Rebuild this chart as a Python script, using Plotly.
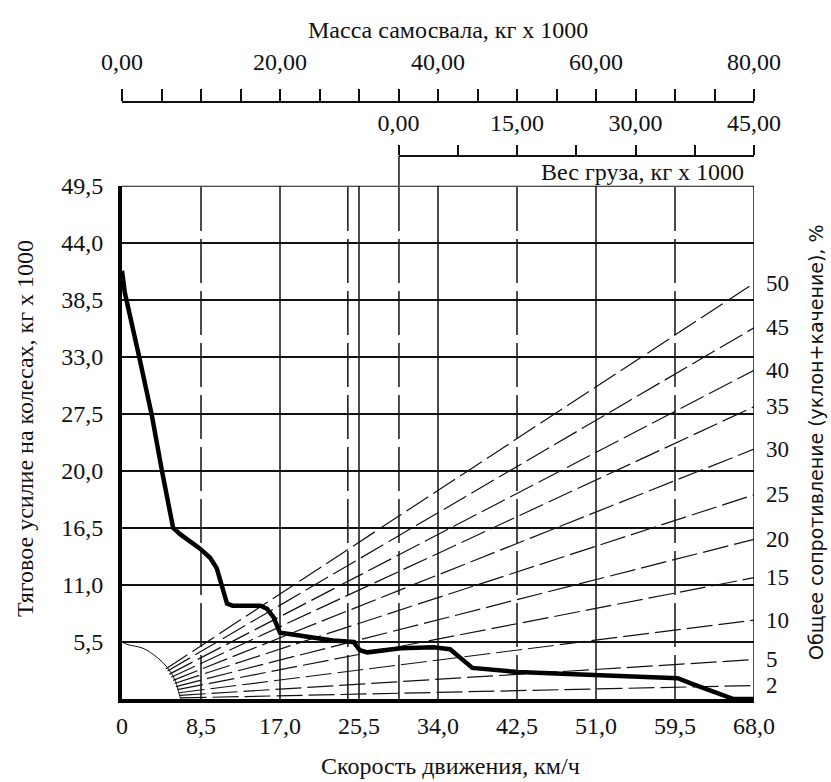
import plotly.graph_objects as go

# ---------------- data ----------------
speed_ticks = [0, 8.5, 17.0, 25.5, 34.0, 42.5, 51.0, 59.5, 68.0]
speed_ticktext = ["0", "8,5", "17,0", "25,5", "34,0", "42,5", "51,0", "59,5", "68,0"]
force_ticks = [5.5, 11.0, 16.5, 22.0, 27.5, 33.0, 38.5, 44.0, 49.5]
force_ticktext = ["5,5", "11,0", "16,5", "20,0", "27,5", "33,0", "38,5", "44,0", "49,5"]

# rimpull (traction) curve
rimpull_speed = [0, 0.3, 1.9, 3.2, 4.3, 5.5, 6.25, 8.4, 9.5, 10.2, 11.3, 11.9, 14.9, 15.6,
                 16.3, 17.0, 17.8, 22.7, 24.9, 25.6, 26.4, 30.0, 33.5, 35.3, 37.7, 42.6,
                 48.0, 55.1, 59.8, 61.2, 65.8, 68.0]
rimpull_force = [41.3, 39.2, 32.8, 27.4, 22.0, 16.5, 15.9, 14.5, 13.6, 12.6, 9.2, 9.0, 9.0, 8.7,
                 7.9, 6.4, 6.3, 5.65, 5.5, 4.7, 4.5, 4.9, 5.0, 4.8, 3.0, 2.6,
                 2.4, 2.1, 2.0, 1.5, 0.0, 0.0]

# total resistance lines (grade + rolling), %
resist_pct = [2, 5, 10, 15, 20, 25, 30, 35, 40, 45, 50]
resist_start_speed = [6.3, 6.2, 6.1, 5.95, 5.8, 5.65, 5.5, 5.3, 5.1, 4.9, 4.7]
resist_start_force = [0.1, 0.35, 0.6, 0.9, 1.2, 1.5, 1.8, 2.1, 2.4, 2.7, 2.9]
resist_end_speed = [68.0] * 11
resist_end_force = [1.3, 3.8, 7.6, 11.7, 15.4, 19.7, 24.1, 28.2, 31.7, 35.8, 40.1]

# thin weight curve near the origin
weight_curve_speed = [0, 0.54, 2.26, 3.77, 4.85, 5.71, 6.25, 6.35]
weight_curve_force = [5.5, 5.27, 4.89, 4.02, 3.07, 1.82, 0.19, 0.0]

grid_solid_speed = [17.0, 25.5, 34.0, 51.0]
grid_dashed_speed = [8.5, 24.3, 29.8, 42.5, 59.5]

mass_range = [0, 80]
load_range = [0, 45]
load_zero_speed = 29.8

# ---------------- layout constants ----------------
W, H = 831, 782
ML, MR, MT, MB = 122, 77, 20, 83
PW = W - ML - MR
PH = H - MT - MB
def py(px):  # pixel y -> paper
    return (H - MB - px) / PH
def pxx(px):  # pixel x -> paper
    return (px - ML) / PW

SERIF = "Liberation Serif"
FS = 24
BLACK = "#111111"

fig = go.Figure()

# resistance fan lines
for i, p in enumerate(resist_pct):
    fig.add_trace(go.Scatter(
        x=[resist_start_speed[i], resist_end_speed[i]],
        y=[resist_start_force[i], resist_end_force[i]],
        mode="lines", line=dict(color=BLACK, width=1.2, dash="26px,6px"),
        hoverinfo="skip", showlegend=False))

# thin curve
fig.add_trace(go.Scatter(x=weight_curve_speed, y=weight_curve_force, mode="lines",
                         line=dict(color=BLACK, width=1, shape="spline"),
                         hoverinfo="skip", showlegend=False))

# rimpull curve
fig.add_trace(go.Scatter(x=rimpull_speed, y=rimpull_force, mode="lines",
                         line=dict(color="black", width=4.5),
                         showlegend=False))

# dummy traces for top axes
fig.add_trace(go.Scatter(x=[0], y=[0], xaxis="x2", mode="markers",
                         marker=dict(opacity=0), hoverinfo="skip", showlegend=False))
fig.add_trace(go.Scatter(x=[0], y=[0], xaxis="x3", mode="markers",
                         marker=dict(opacity=0), hoverinfo="skip", showlegend=False))

shapes = []
for s in grid_solid_speed:
    shapes.append(dict(type="line", xref="x", yref="y", x0=s, x1=s, y0=0, y1=49.5,
                       line=dict(color=BLACK, width=1.5), layer="below"))
for s in grid_dashed_speed:
    shapes.append(dict(type="line", xref="x", yref="y", x0=s, x1=s, y0=0, y1=49.5,
                       line=dict(color=BLACK, width=1.5, dash="44px,8px"), layer="below"))
# borders
shapes.append(dict(type="line", xref="x", yref="y", x0=0, x1=68, y0=49.5, y1=49.5,
                   line=dict(color=BLACK, width=2)))
shapes.append(dict(type="line", xref="x", yref="y", x0=68, x1=68, y0=0, y1=49.5,
                   line=dict(color=BLACK, width=1.5)))
# connector from load axis zero to plot top
y_top = py(182)
y_load = py(152)
y_mass = py(98)
shapes.append(dict(type="line", xref="x", yref="paper", x0=load_zero_speed, x1=load_zero_speed,
                   y0=y_top, y1=y_load, line=dict(color=BLACK, width=1.5)))

def ann(text, x, y, size=FS, family=SERIF, angle=0, xanchor="center"):
    return dict(text=text, xref="paper", yref="paper", x=x, y=y, xanchor=xanchor,
                yanchor="middle", textangle=angle, showarrow=False,
                font=dict(family=family, size=size, color=BLACK))

annotations = [
    ann("Масса самосвала, кг х 1000", pxx(448), py(25)),
    ann("Вес груза, кг х 1000", pxx(746), py(168), xanchor="right"),
    ann("Тяговое усилие на колесах, кг х 1000", pxx(25), py(427), angle=-90),
    ann("Скорость движения, км/ч", pxx(450), py(767)),
    ann("Общее сопротивление (уклон+качение), %", pxx(816), py(441), size=19,
        family="DejaVu Sans", angle=-90),
]
for i, p in enumerate(resist_pct):
    annotations.append(dict(text=str(p), xref="x", yref="y", x=resist_end_speed[i],
                            y=resist_end_force[i], xanchor="left", yanchor="middle", xshift=10,
                            showarrow=False, font=dict(family=SERIF, size=23, color=BLACK)))

tickfont = dict(family=SERIF, size=FS, color=BLACK)

fig.update_layout(
    width=W, height=H, margin=dict(l=ML, r=MR, t=MT, b=MB),
    paper_bgcolor="white", plot_bgcolor="rgba(0,0,0,0)",
    separators=", ", showlegend=False,
    shapes=shapes, annotations=annotations,
    xaxis=dict(range=[0, 68], tickmode="array", tickvals=speed_ticks, ticktext=speed_ticktext,
               showgrid=False, zeroline=False, showline=True, linewidth=4, linecolor="black",
               ticks="", tickfont=tickfont, ticklabelstandoff=2, anchor="y"),
    yaxis=dict(range=[0, 49.5], domain=[0, y_top], tickmode="array", tickvals=force_ticks,
               ticktext=force_ticktext, showgrid=True, gridcolor=BLACK, gridwidth=1.5,
               zeroline=False, showline=True, linewidth=4, linecolor="black",
               ticks="", tickfont=tickfont, ticklabelstandoff=10, anchor="x"),
    xaxis2=dict(range=mass_range, overlaying="x", anchor="free", position=y_mass, side="top",
                tickmode="linear", tick0=0, dtick=20, tickformat=".2f",
                ticks="outside", ticklen=12, tickwidth=1.5, tickcolor=BLACK,
                minor=dict(tickmode="linear", tick0=0, dtick=5, ticks="outside", ticklen=12,
                           tickwidth=1.5, tickcolor=BLACK, showgrid=False),
                showline=True, linewidth=2, linecolor=BLACK, showgrid=False, zeroline=False,
                tickfont=tickfont, ticklabelstandoff=10),
    xaxis3=dict(range=load_range, domain=[pxx(398.5), 1], anchor="free", position=y_load,
                side="top", tickmode="linear", tick0=0, dtick=15, tickformat=".2f",
                ticks="outside", ticklen=10, tickwidth=1.5, tickcolor=BLACK,
                minor=dict(tickmode="linear", tick0=0, dtick=7.5, ticks="outside", ticklen=10,
                           tickwidth=1.5, tickcolor=BLACK, showgrid=False),
                showline=True, linewidth=2, linecolor=BLACK, showgrid=False, zeroline=False,
                tickfont=tickfont, ticklabelstandoff=4),
)

fig.write_html("out.html")
